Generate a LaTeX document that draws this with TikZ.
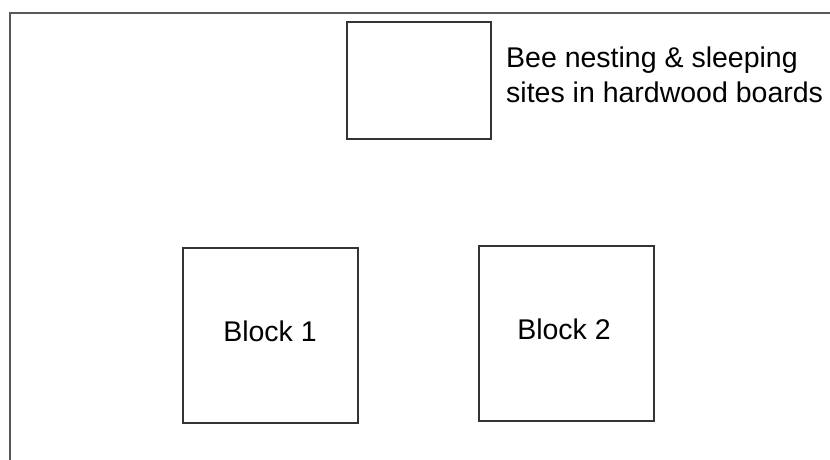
\documentclass[tikz,border=0pt]{standalone}
\usepackage{fontspec}
\setmainfont{Liberation Sans}
\begin{document}
\begin{tikzpicture}[x=1pt,y=-1pt,
  box/.style={draw=black!80,line width=1.4pt,inner sep=0pt},
  lbl/.style={font=\fontsize{28.5}{35}\selectfont,inner sep=0pt}]
\useasboundingbox (0,0) rectangle (830,459);
\draw[draw=black!65,line width=2pt] (10,470) coordinate (fl) -- (10,13) coordinate (fc) -- (840,13) coordinate (fr);
\node[box,minimum width=144pt,minimum height=117pt] (top) at (419,80.5) {};
\node[box,minimum width=175pt,minimum height=175pt] (b1) at (270.5,335.5) {};
\node[box,minimum width=175pt,minimum height=175pt] (b2) at (566.5,333.5) {};
\node[lbl] (t1) at (270,331) {Block 1};
\node[lbl] (t2) at (564,329) {Block 2};
\node[lbl,anchor=west,align=left] (bee) at (506,75) {Bee nesting \& sleeping\\sites in hardwood boards};
\end{tikzpicture}
\end{document}
